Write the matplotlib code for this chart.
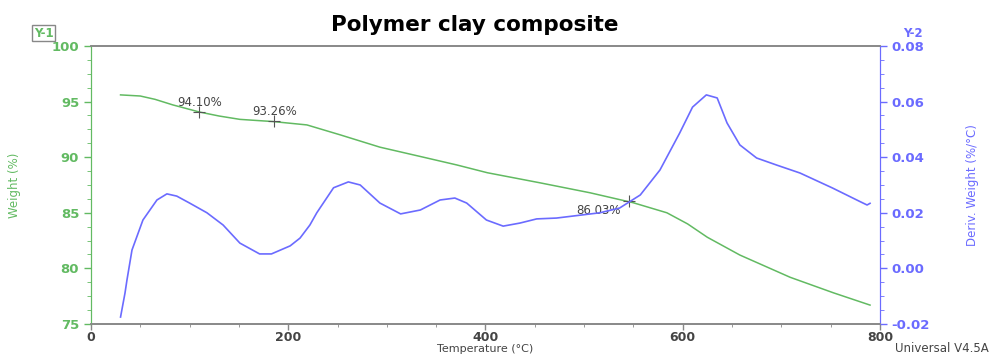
import matplotlib
matplotlib.use("Agg")
import matplotlib.pyplot as plt
from matplotlib.ticker import MultipleLocator, AutoMinorLocator

# weight curve (%)
temp_w = [30, 50, 65, 83, 110, 130, 151, 185, 219, 253, 293, 337, 371, 402, 455,
          506, 550, 584, 605, 625, 658, 709, 753, 790]
weight = [95.6, 95.5, 95.2, 94.7, 94.06, 93.7, 93.4, 93.2, 92.9, 92.0, 90.9, 90.0,
          89.3, 88.6, 87.7, 86.8, 85.9, 85.0, 84.0, 82.8, 81.2, 79.2, 77.8, 76.7]

# derivative weight curve (%/°C)
temp_d = [30, 34.5, 36.5, 41.6, 52.7, 66.9, 77, 87, 100, 117.6, 134, 151, 171, 183,
          202, 212, 222, 229, 246, 261, 273, 293, 314, 334, 354, 369, 381, 401, 418,
          435, 452, 472, 516, 536, 557, 577, 597, 610, 624, 635, 645, 658, 675, 695,
          719, 752, 780, 787, 790]
deriv = [-0.0175, -0.0089, -0.0042, 0.0066, 0.0174, 0.0246, 0.0268, 0.0260, 0.0235,
         0.0200, 0.0156, 0.0091, 0.0052, 0.0052, 0.0081, 0.0109, 0.0156, 0.0200,
         0.0290, 0.0311, 0.0300, 0.0235, 0.0196, 0.0210, 0.0246, 0.0253, 0.0235,
         0.0174, 0.0152, 0.0163, 0.0178, 0.0181, 0.0200, 0.0217, 0.0264, 0.0354,
         0.0487, 0.0580, 0.0624, 0.0613, 0.0523, 0.0444, 0.0397, 0.0372, 0.0343,
         0.0289, 0.0240, 0.0228, 0.0234]

marks_t = [110, 186, 546]
marks_w = [94.10, 93.26, 86.03]
mark_labels = ["94.10%", "93.26%", "86.03%"]

green = "#62ba62"
blue = "#6b6bff"
grey = "#555555"

fig = plt.figure(figsize=(9.93, 3.56), dpi=100)
ax = fig.add_axes([0.0916, 0.0899, 0.7945, 0.781])
ax2 = ax.twinx()

ax.plot(temp_w, weight, color=green, lw=1.1, solid_joinstyle="round")
ax.plot(marks_t, marks_w, "+", color=grey, ms=8, mew=0.8)
ax2.plot(temp_d, deriv, color=blue, lw=1.2, solid_joinstyle="round")

ax.text(110, 94.35, mark_labels[0], ha="center", va="bottom", fontsize=8.5, color="#444444")
ax.text(186, 93.5, mark_labels[1], ha="center", va="bottom", fontsize=8.5, color="#444444")
ax.text(537, 85.8, mark_labels[2], ha="right", va="top", fontsize=8.5, color="#444444")

ax.set_xlim(0, 800)
ax.set_ylim(75, 100)

ax.xaxis.set_major_locator(MultipleLocator(200))
ax.xaxis.set_minor_locator(MultipleLocator(50))
ax.yaxis.set_major_locator(MultipleLocator(5))
ax.yaxis.set_minor_locator(AutoMinorLocator(4))
deriv_ticks = [-0.02, 0.0, 0.02, 0.04, 0.06, 0.08]
ax2.set_yticks(deriv_ticks)
ax2.set_yticklabels([f"{v:.2f}" for v in deriv_ticks])
ax2.yaxis.set_minor_locator(MultipleLocator(0.005))
ax2.set_ylim(-0.02, 0.08)

for a in (ax, ax2):
    a.spines["top"].set_color("#888888")
    a.spines["bottom"].set_color("#888888")
    a.spines["left"].set_color(green)
    a.spines["right"].set_color(blue)
    a.spines["top"].set_linewidth(1.2)
    a.spines["bottom"].set_linewidth(1.2)

ax.tick_params(axis="x", colors="#888888", labelcolor="#444444", labelsize=9, length=4,
               width=1, pad=1)
ax.tick_params(axis="x", which="minor", length=2, color="#888888")
ax.tick_params(axis="y", colors=green, labelcolor=green, labelsize=9.5, length=5, width=1)
ax.tick_params(axis="y", which="minor", length=3, color=green)
ax2.tick_params(axis="y", colors=blue, labelcolor=blue, labelsize=9.5, length=5, width=1)
ax2.tick_params(axis="y", which="minor", length=3, color=blue)
for lab in ax.get_yticklabels() + ax2.get_yticklabels() + ax.get_xticklabels():
    lab.set_fontweight("bold")

ax.set_xlabel("Temperature (°C)", fontsize=8, color="#444444", labelpad=0)
ax.set_ylabel("Weight (%)", fontsize=8.5, color=green, labelpad=22)
ax2.set_ylabel("Deriv. Weight (%/°C)", fontsize=8.5, color=blue, labelpad=26)

fig.text(0.478, 0.93, "Polymer clay composite", ha="center", va="center",
         fontsize=15.5, fontweight="bold", color="black")
fig.text(0.044, 0.907, "Y-1", ha="center", va="center", fontsize=8.5, color=green,
         fontweight="bold",
         bbox=dict(boxstyle="square,pad=0.15", fc="white", ec="#888888", lw=1))
fig.text(0.919, 0.907, "Y-2", ha="center", va="center", fontsize=8.5, color=blue,
         fontweight="bold")
fig.text(0.996, 0.004, "Universal V4.5A", ha="right", va="bottom", fontsize=8.5,
         color="#444444")

fig.savefig("out.png", dpi=100)
